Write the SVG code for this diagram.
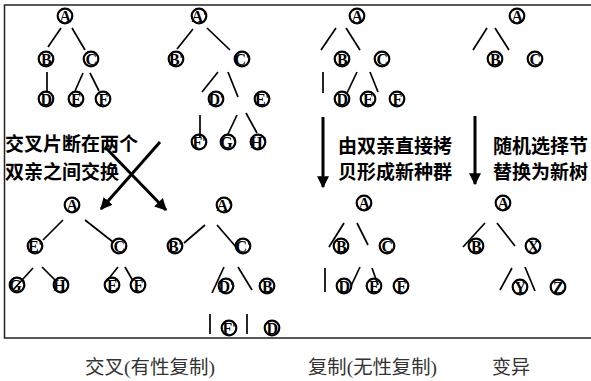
<svg xmlns="http://www.w3.org/2000/svg" width="591" height="381" viewBox="0 0 591 381">
<style>
.n circle{fill:none;stroke:#000;stroke-width:2.2}
.n text{font-family:"Liberation Serif",serif;font-weight:bold;font-size:16px;text-anchor:middle;dominant-baseline:central;fill:#000;letter-spacing:-0.6px}
.e line{stroke:#000;stroke-width:1.7;fill:none}
.a line{stroke:#000;stroke-width:3}
.t{font-family:"Noto Sans CJK SC",sans-serif;font-weight:bold;font-size:19px;fill:#000}
.c{font-family:"Liberation Serif","Noto Sans CJK SC",serif;font-size:19px;fill:#333}
</style>
<defs>
<marker id="ah" viewBox="0 0 10 10" refX="9" refY="5" markerWidth="4" markerHeight="4" orient="auto" markerUnits="strokeWidth">
<path d="M0,0 L10,5 L0,10 z" fill="#000"/>
</marker>
</defs>
<rect width="591" height="381" fill="#fff"/>
<path d="M600,5 H4.5 V338 H600" fill="none" stroke="#222" stroke-width="1.5"/>

<g id="connectors">
<g class="e">
<line x1="61" y1="28" x2="48" y2="47"/>
<line x1="72" y1="28" x2="85" y2="50"/>
<line x1="47" y1="72" x2="47" y2="93"/>
<line x1="83" y1="73" x2="75" y2="91"/>
<line x1="90" y1="73" x2="99" y2="91"/>
<line x1="193" y1="29" x2="177" y2="49"/>
<line x1="207" y1="28" x2="230" y2="50"/>
<line x1="218" y1="72" x2="202" y2="92"/>
<line x1="228" y1="72" x2="238" y2="97"/>
<line x1="200" y1="115" x2="200" y2="137"/>
<line x1="237" y1="115" x2="228" y2="134"/>
<line x1="246" y1="113" x2="257" y2="133"/>
<line x1="336" y1="28" x2="321" y2="50"/>
<line x1="346" y1="28" x2="360" y2="50"/>
<line x1="323" y1="72" x2="323" y2="93"/>
<line x1="357" y1="72" x2="347" y2="93"/>
<line x1="370" y1="72" x2="378" y2="92"/>
<line x1="487" y1="28" x2="473" y2="50"/>
<line x1="495" y1="28" x2="509" y2="50"/>
<line x1="63" y1="220" x2="43" y2="240"/>
<line x1="85" y1="220" x2="113" y2="242"/>
<line x1="33" y1="268" x2="13" y2="290"/>
<line x1="42" y1="267" x2="56" y2="281"/>
<line x1="118" y1="267" x2="106" y2="282"/>
<line x1="125" y1="267" x2="133" y2="281"/>
<line x1="205" y1="225" x2="184" y2="243"/>
<line x1="217" y1="225" x2="236" y2="247"/>
<line x1="224" y1="267" x2="212" y2="293"/>
<line x1="238" y1="267" x2="252" y2="290"/>
<line x1="210" y1="314" x2="210" y2="334"/>
<line x1="247" y1="314" x2="247" y2="334"/>
<line x1="344" y1="223" x2="329" y2="247"/>
<line x1="357" y1="223" x2="368" y2="245"/>
<line x1="325" y1="268" x2="325" y2="292"/>
<line x1="360" y1="267" x2="351" y2="286"/>
<line x1="372" y1="268" x2="378" y2="285"/>
<line x1="485" y1="223" x2="463" y2="247"/>
<line x1="497" y1="223" x2="515" y2="246"/>
<line x1="512" y1="268" x2="500" y2="290"/>
<line x1="525" y1="267" x2="535" y2="291"/>
</g>
<g class="a">
<line x1="160" y1="142" x2="101" y2="209" marker-end="url(#ah)"/>
<line x1="105" y1="147" x2="166" y2="210" marker-end="url(#ah)"/>
<line x1="323" y1="117" x2="323" y2="187" marker-end="url(#ah)"/>
<line x1="475" y1="116" x2="475" y2="184" marker-end="url(#ah)"/>
</g>
</g>

<g id="t1A" class="n"><circle cx="65" cy="16" r="7.3"/><text x="65" y="16">A</text></g>
<g id="t1B" class="n"><circle cx="46" cy="59" r="7.3"/><text x="46" y="59">B</text></g>
<g id="t1C" class="n"><circle cx="91" cy="59" r="7.3"/><text x="91" y="59">C</text></g>
<g id="t1D" class="n"><circle cx="46" cy="99" r="7.3"/><text x="46" y="99">D</text></g>
<g id="t1E" class="n"><circle cx="76" cy="99" r="7.3"/><text x="76" y="99">E</text></g>
<g id="t1F" class="n"><circle cx="103" cy="99" r="7.3"/><text x="103" y="99">F</text></g>

<g id="t2A" class="n"><circle cx="199" cy="16" r="7.3"/><text x="199" y="16">A'</text></g>
<g id="t2B" class="n"><circle cx="176" cy="59" r="7.3"/><text x="176" y="59">B'</text></g>
<g id="t2C" class="n"><circle cx="242" cy="59" r="7.3"/><text x="242" y="59">C'</text></g>
<g id="t2D" class="n"><circle cx="216" cy="99" r="7.3"/><text x="216" y="99">D'</text></g>
<g id="t2E" class="n"><circle cx="262" cy="99" r="7.3"/><text x="262" y="99">E'</text></g>
<g id="t2F" class="n"><circle cx="199" cy="142" r="7.3"/><text x="199" y="142">F'</text></g>
<g id="t2G" class="n"><circle cx="228" cy="142" r="7.3"/><text x="228" y="142">G'</text></g>
<g id="t2H" class="n"><circle cx="258" cy="142" r="7.3"/><text x="258" y="142">H'</text></g>

<g id="t3A" class="n"><circle cx="357" cy="16" r="7.3"/><text x="357" y="16">A</text></g>
<g id="t3B" class="n"><circle cx="342" cy="59" r="7.3"/><text x="342" y="59">B</text></g>
<g id="t3C" class="n"><circle cx="382" cy="59" r="7.3"/><text x="382" y="59">C</text></g>
<g id="t3D" class="n"><circle cx="342" cy="99" r="7.3"/><text x="342" y="99">D</text></g>
<g id="t3E" class="n"><circle cx="368" cy="99" r="7.3"/><text x="368" y="99">E</text></g>
<g id="t3F" class="n"><circle cx="397" cy="99" r="7.3"/><text x="397" y="99">F</text></g>

<g id="t4A" class="n"><circle cx="517" cy="16" r="7.3"/><text x="517" y="16">A</text></g>
<g id="t4B" class="n"><circle cx="495" cy="59" r="7.3"/><text x="495" y="59">B</text></g>
<g id="t4C" class="n"><circle cx="535" cy="59" r="7.3"/><text x="535" y="59">C</text></g>

<g id="t5A" class="n"><circle cx="72" cy="205" r="7.3"/><text x="72" y="205">A</text></g>
<g id="t5E" class="n"><circle cx="35" cy="246" r="7.3"/><text x="35" y="246">E'</text></g>
<g id="t5C" class="n"><circle cx="119" cy="246" r="7.3"/><text x="119" y="246">C</text></g>
<g id="t5G" class="n"><circle cx="17" cy="285" r="7.3"/><text x="17" y="285">G'</text></g>
<g id="t5H" class="n"><circle cx="61" cy="285" r="7.3"/><text x="61" y="285">H'</text></g>
<g id="t5E2" class="n"><circle cx="112" cy="285" r="7.3"/><text x="112" y="285">E</text></g>
<g id="t5F" class="n"><circle cx="138" cy="285" r="7.3"/><text x="138" y="285">F</text></g>

<g id="t6A" class="n"><circle cx="224" cy="205" r="7.3"/><text x="224" y="205">A'</text></g>
<g id="t6B" class="n"><circle cx="175" cy="246" r="7.3"/><text x="175" y="246">B'</text></g>
<g id="t6C" class="n"><circle cx="243" cy="246" r="7.3"/><text x="243" y="246">C'</text></g>
<g id="t6D" class="n"><circle cx="226" cy="286" r="7.3"/><text x="226" y="286">D'</text></g>
<g id="t6B2" class="n"><circle cx="267" cy="286" r="7.3"/><text x="267" y="286">B</text></g>
<g id="t6F" class="n"><circle cx="229" cy="328" r="7.3"/><text x="229" y="328">F'</text></g>
<g id="t6D2" class="n"><circle cx="272" cy="328" r="7.3"/><text x="272" y="328">D</text></g>

<g id="t7A" class="n"><circle cx="364" cy="203" r="7.3"/><text x="364" y="203">A</text></g>
<g id="t7B" class="n"><circle cx="341" cy="246" r="7.3"/><text x="341" y="246">B</text></g>
<g id="t7C" class="n"><circle cx="387" cy="246" r="7.3"/><text x="387" y="246">C</text></g>
<g id="t7D" class="n"><circle cx="344" cy="286" r="7.3"/><text x="344" y="286">D</text></g>
<g id="t7E" class="n"><circle cx="374" cy="286" r="7.3"/><text x="374" y="286">E</text></g>
<g id="t7F" class="n"><circle cx="401" cy="286" r="7.3"/><text x="401" y="286">F</text></g>

<g id="t8A" class="n"><circle cx="503" cy="203" r="7.3"/><text x="503" y="203">A</text></g>
<g id="t8B" class="n"><circle cx="476" cy="246" r="7.3"/><text x="476" y="246">B</text></g>
<g id="t8X" class="n"><circle cx="533" cy="246" r="7.3"/><text x="533" y="246">X</text></g>
<g id="t8Y" class="n"><circle cx="520" cy="287" r="7.3"/><text x="520" y="287">Y</text></g>
<g id="t8Z" class="n"><circle cx="558" cy="287" r="7.3"/><text x="558" y="287">Z</text></g>

<g id="labels">
<text class="t" x="5" y="151">交叉片断在两个</text>
<text class="t" x="5" y="179">双亲之间交换</text>
<text class="t" x="338" y="153">由双亲直接拷</text>
<text class="t" x="338" y="179">贝形成新种群</text>
<text class="t" x="493" y="153">随机选择节</text>
<text class="t" x="493" y="179">替换为新树</text>
<text class="c" x="85" y="374" textLength="130" lengthAdjust="spacingAndGlyphs">交叉(有性复制)</text>
<text class="c" x="308" y="374" textLength="129" lengthAdjust="spacingAndGlyphs">复制(无性复制)</text>
<text class="c" x="492" y="374">变异</text>
</g>
</svg>
